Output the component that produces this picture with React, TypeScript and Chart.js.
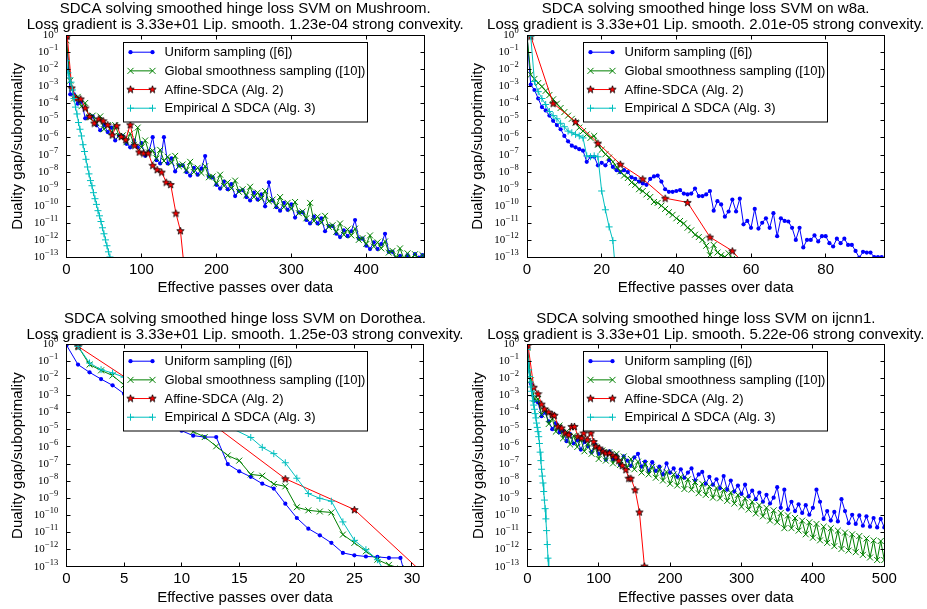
import React, { useEffect, useRef } from 'react';
import { Chart, registerables } from 'chart.js';
Chart.register(...registerables);

const SANS = '"Liberation Sans", Arial, Helvetica, sans-serif';
const SERIF = '"Liberation Serif", "Times New Roman", serif';

// ---------------- axes / labels ----------------
const yTickValues = [1, 1e-1, 1e-2, 1e-3, 1e-4, 1e-5, 1e-6, 1e-7, 1e-8, 1e-9, 1e-10, 1e-11, 1e-12, 1e-13];
const yTickExponents = ['0', '\u22121', '\u22122', '\u22123', '\u22124', '\u22125', '\u22126', '\u22127', '\u22128', '\u22129', '\u221210', '\u221211', '\u221212', '\u221213'];
const legendLabels = ['Uniform sampling ([6])', 'Global smoothness sampling ([10])', 'Affine-SDCA (Alg. 2)', 'Empirical \u0394 SDCA (Alg. 3)'];
const seriesColors = ['#0000ff', '#008000', '#ff0000', '#00bfbf'];
const xAxisTitle = 'Effective passes over data';
const yAxisTitle = 'Duality gap/suboptimality';

// ---------------- Mushroom ----------------
const mushroomTitle = ['SDCA solving smoothed hinge loss SVM on Mushroom.', 'Loss gradient is 3.33e+01 Lip. smooth. 1.23e-04 strong convexity.'];
const mushroomXTicks = [0, 100, 200, 300, 400];
const mushroomDenseX = [0, 5, 10, 15, 20, 25, 30, 35, 40, 45, 50, 55, 60, 65, 70, 75, 80, 85, 90, 95, 100, 105, 110, 115, 120, 125, 130, 135, 140, 145, 150, 155, 160, 165, 170, 175, 180, 185, 190, 195, 200, 205, 210, 215, 220, 225, 230, 235, 240, 245, 250, 255, 260, 265, 270, 275, 280, 285, 290, 295, 300, 305, 310, 315, 320, 325, 330, 335, 340, 345, 350, 355, 360, 365, 370, 375, 380, 385, 390, 395, 400, 405, 410, 415, 420, 425, 430, 435, 440, 445, 450, 455, 460, 465, 470, 475];
const mushroomUniform = [6.3e-1, 3.5e-4, 3.5e-4, 1e-4, 1.3e-4, 1.4e-5, 1.8e-5, 1.8e-5, 5.6e-6, 2.8e-6,
  5.6e-6, 2.2e-6, 4e-6, 7.1e-7, 1.4e-6, 1.3e-6, 4.5e-7, 2.8e-7, 7.1e-7, 2.8e-7,
  5e-7, 8.9e-8, 1.6e-7, 1.1e-6, 5e-8, 3.2e-8, 1.1e-6, 3.2e-8, 6.3e-8, 1.1e-8,
  2.5e-8, 2.5e-8, 1e-8, 6.3e-9, 1.8e-8, 7.1e-9, 1.6e-8, 8.7e-8, 5.6e-9, 5e-9,
  1.8e-9, 1.1e-9, 2.8e-9, 1e-9, 2e-9, 4e-10, 7.9e-10, 8.9e-10, 3.5e-10, 2.2e-10,
  6.3e-10, 2.5e-10, 5e-10, 1e-10, 2.5e-9, 2.2e-10, 8.9e-11, 5.6e-11, 1.6e-10, 6.3e-11,
  1.3e-10, 2.2e-11, 4.5e-11, 4.5e-11, 1.6e-11, 1e-11, 2.5e-11, 1e-11, 2e-11, 3.5e-12,
  7.1e-12, 7.1e-12, 2.5e-12, 1.6e-12, 4e-12, 1.8e-12, 3.5e-12, 1.6e-11, 1.3e-12, 1.3e-12,
  5e-13, 3.2e-13, 7.9e-13, 3.2e-13, 6.3e-13, 2.5e-12, 2.2e-13, 2.2e-13, 7.9e-14, 1.3e-13,
  6.3e-14, 1.4e-13, 7.9e-14, 1.6e-13, 1e-13, 1.4e-13];
const mushroomGlobal = [5e-1, 2.2e-3, 2e-4, 2.5e-4, 7.1e-5, 1.1e-4, 1.6e-5, 2e-5, 7.1e-6, 1.8e-5,
  3.2e-6, 5.6e-6, 2.2e-6, 5.6e-6, 1.3e-6, 1.4e-6, 5.6e-7, 1.8e-6, 4e-7, 4e-6,
  2.8e-7, 7.1e-7, 1.4e-7, 1.8e-7, 6.3e-8, 2e-7, 4.5e-8, 7.9e-8, 3.5e-8, 8.9e-8,
  2.2e-8, 2.8e-8, 1.3e-8, 4e-8, 1e-8, 1.8e-8, 8.9e-9, 2.2e-8, 5e-9, 5.6e-9,
  2.2e-9, 7.1e-9, 1.6e-9, 2.5e-9, 1.1e-9, 3.2e-9, 7.1e-10, 1e-9, 4.5e-10, 1.4e-9,
  3.5e-10, 6.3e-10, 2.8e-10, 7.9e-10, 2e-10, 2.5e-10, 1.1e-10, 3.5e-10, 8.9e-11, 1.6e-10,
  7.1e-11, 1.8e-10, 4e-11, 5e-11, 2e-11, 1.6e-10, 1.4e-11, 2.5e-11, 1.1e-11, 2.8e-11,
  6.3e-12, 7.9e-12, 3.2e-12, 1e-11, 2.2e-12, 4.5e-12, 2e-12, 5e-12, 1.1e-12, 1.4e-12,
  6.3e-13, 2e-12, 4.5e-13, 7.9e-13, 3.5e-13, 8.9e-13, 2e-13, 2.5e-13, 1e-13, 3.5e-13,
  8.9e-14, 1.8e-13, 8.9e-14, 1.6e-13, 7.9e-14, 1.4e-13];
const mushroomAffineX = [1, 7, 13, 19, 25, 31, 37, 43, 49, 55, 61, 67, 73, 79, 85, 91, 97, 103, 109, 115, 121, 127, 133, 139, 146, 152, 158];
const mushroomAffine = [9e-1, 8.3e-4, 2.1e-4, 1.9e-4, 5.6e-5, 1.8e-5, 7.4e-6, 1.3e-5, 1e-5, 5.9e-6, 1.5e-6, 5.2e-6, 1.2e-6, 7.9e-7, 5.9e-6, 3.7e-7, 1.5e-7, 1.3e-7, 1.3e-7, 2.5e-8, 1.4e-8, 1e-8, 2.6e-9, 1.9e-9, 4e-11, 3.8e-12, 1e-14];
const mushroomEmpiricalX = [0, 2, 4, 6, 8, 10, 12, 14, 16, 18, 20, 22, 24, 26, 28, 30, 32, 34, 36, 38, 40, 42, 44, 46, 48, 50, 52, 54, 56, 58, 60];
const mushroomEmpirical = [3.2e-2, 6.3e-3, 3.2e-3, 1.8e-3, 6.3e-4, 2e-4, 6.3e-5, 2.5e-5, 7.9e-6, 3.2e-6, 1.3e-6, 4e-7, 1.6e-7, 5.6e-8, 2e-8, 7.9e-9, 3.2e-9, 1.6e-9, 6.3e-10, 2.8e-10, 1.3e-10, 5.6e-11, 2.8e-11, 1.3e-11, 5.6e-12, 2.5e-12, 1.1e-12, 5e-13, 2.2e-13, 1.1e-13, 5e-14];

// ---------------- w8a ----------------
const w8aTitle = ['SDCA solving smoothed hinge loss SVM on w8a.', 'Loss gradient is 3.33e+01 Lip. smooth. 2.01e-05 strong convexity.'];
const w8aXTicks = [0, 20, 40, 60, 80];
const w8aUniformX = [0, 1, 2, 3, 4, 5, 6, 7, 8, 9, 10, 11, 12, 13, 14, 15, 16, 17, 18, 19, 20, 21, 22, 23, 24, 25, 26, 27, 28, 29, 30, 31, 32, 33, 34, 35, 36, 37, 38, 39, 40, 41, 42, 43, 44, 45, 46, 47, 48, 49, 50, 51, 52, 53, 54, 55, 56, 57, 58, 59, 60, 61, 62, 63, 64, 65, 66, 67, 68, 69, 70, 71, 72, 73, 74, 75, 76, 77, 78, 79, 80, 81, 82, 83, 84, 85, 86, 87, 88, 89, 90, 91, 92, 93, 94, 95];
const w8aUniform = [1, 1.3e-3, 6.3e-4, 2e-4, 6.3e-5, 4e-5, 2e-5, 1e-5, 5.6e-6, 3.2e-6,
  1.3e-6, 6.3e-7, 3.5e-7, 2.8e-7, 2.2e-7, 1.8e-7, 4e-8, 7.9e-8, 7.9e-8, 2.5e-8,
  3.5e-8, 2.5e-8, 5e-8, 2e-8, 1.3e-8, 1e-8, 1.3e-8, 1e-8, 5e-9, 4e-9,
  2.8e-9, 2.2e-9, 1.8e-9, 4e-9, 5.6e-9, 6.3e-9, 2.8e-9, 1e-9, 7.1e-10, 7.1e-10,
  7.9e-10, 8.9e-10, 5.6e-10, 5e-10, 5.6e-10, 1.1e-9, 4e-10, 4e-10, 5e-10, 7.9e-10,
  5.6e-11, 2e-10, 1.3e-10, 2.5e-11, 5e-11, 2.5e-10, 5e-11, 2.8e-10, 8.9e-12, 1.4e-11,
  5.6e-12, 7.1e-11, 5e-12, 1.1e-11, 2e-11, 5.6e-12, 4e-11, 1.8e-12, 2e-11, 1.4e-11,
  1.3e-11, 5.6e-12, 1.1e-12, 5.6e-12, 4e-13, 1.1e-12, 1.1e-12, 2e-12, 8.9e-13, 1.8e-12,
  1.8e-12, 7.1e-13, 4.5e-13, 1.3e-12, 7.1e-13, 1.3e-12, 5.6e-13, 5.6e-13, 2.5e-13, 1e-13,
  2.2e-13, 2e-13, 2e-13, 1.1e-13, 1.1e-13, 1.1e-13];
const w8aGlobalX = [0, 1, 2, 3, 4, 5, 6, 7, 8, 9, 10, 11, 12, 13, 14, 15, 16, 17, 18, 19, 20, 21, 22, 23, 24, 25, 26, 27, 28, 29, 30, 31, 32, 33, 34, 35, 36, 37, 38, 39, 40, 41, 42, 43, 44, 45, 46, 47, 48, 49, 50, 51, 52, 53, 54, 55, 56];
const w8aGlobal = [1, 5e-3, 2.8e-3, 1.6e-3, 1e-3, 5.6e-4, 3.2e-4, 1.8e-4, 1e-4, 5.6e-5,
  3.2e-5, 2e-5, 1.3e-5, 7.9e-6, 4e-6, 2.5e-6, 1.6e-6, 1e-6, 1.3e-6, 4e-7,
  2e-7, 1.1e-7, 7.1e-8, 4e-8, 2e-8, 1.1e-8, 6.3e-9, 4.5e-9, 2.5e-9, 1.8e-9,
  1e-9, 7.9e-10, 5e-10, 3.5e-10, 1.8e-10, 1.6e-10, 1.1e-10, 7.1e-11, 4.5e-11, 3.2e-11,
  2e-11, 1.4e-11, 1e-11, 5.6e-12, 4e-12, 2.2e-12, 1.6e-12, 1.1e-12, 5e-13, 1.4e-13,
  5.6e-13, 2e-13, 1.4e-13, 1.1e-13, 1.8e-13, 8.9e-14, 5e-14];
const w8aAffineX = [1, 7, 13, 19, 25, 31, 37, 43, 49, 55, 61];
const w8aAffine = [8.9e-1, 1.05e-4, 8.9e-6, 4.9e-7, 2.9e-8, 4e-9, 3e-10, 1.7e-10, 1.6e-12, 2.5e-13, 8e-15];
const w8aEmpiricalX = [1, 2, 3, 4, 5, 6, 7, 8, 9, 10, 11, 12, 13, 14, 15, 16, 17, 18, 19, 20, 21, 22, 23, 24];
const w8aEmpirical = [8.9e-1, 2e-3, 5e-4, 2e-4, 8.9e-5, 3.5e-5, 2e-5, 1.3e-5, 7.1e-6, 4.5e-6, 2.5e-6, 2e-6, 1.6e-6, 1.3e-6, 1e-6, 8.9e-8, 7.9e-8, 8.9e-8, 7.9e-8, 7.9e-10, 6.3e-11, 6.3e-12, 1e-12, 3.2e-15];

// ---------------- Dorothea ----------------
const dorotheaTitle = ['SDCA solving smoothed hinge loss SVM on Dorothea.', 'Loss gradient is 3.33e+01 Lip. smooth. 1.25e-03 strong convexity.'];
const dorotheaXTicks = [0, 5, 10, 15, 20, 25, 30];
const dorotheaUniformX = [0, 1, 2, 3, 4, 5, 10, 11, 12, 13, 14, 15, 16, 17, 18, 19, 20, 21, 22, 23, 24, 25, 26, 27, 28, 29, 30];
const dorotheaUniform = [8.9e-1, 6.5e-2, 2.3e-2, 9.3e-3, 4e-3, 1.3e-3, 8.9e-6, 4.6e-6, 3.8e-6, 3.8e-6, 1e-7, 3.8e-8, 1.8e-8, 7.2e-9, 3.7e-9, 4.9e-10, 7.1e-11, 1.7e-11, 6.9e-12, 2.5e-12, 6.5e-13, 4.7e-13, 4e-13, 3.8e-13, 3.3e-13, 3.3e-13, 1e-15];
const dorotheaGlobalX = [1, 2, 3, 4, 5, 11, 12, 13, 14, 15, 16, 17, 18, 19, 20, 21, 22, 23, 24, 25, 26, 27, 28, 29];
const dorotheaGlobal = [7.6e-1, 6.5e-2, 3e-2, 1.5e-2, 4.2e-3, 7.9e-6, 3.8e-6, 1.1e-6, 3.2e-7, 1.6e-7, 2.5e-8, 2.1e-8, 6.9e-9, 5e-9, 3e-10, 2e-10, 1.7e-10, 1.5e-10, 7.6e-12, 2.5e-12, 8.1e-13, 2.6e-13, 1.3e-13, 8e-14];
const dorotheaAffineX = [1, 7, 13, 19, 25, 31];
const dorotheaAffine = [7.6e-1, 1.7e-3, 1.5e-5, 1.4e-8, 2.2e-10, 4e-14];
const dorotheaEmpiricalX = [1, 2, 3, 4, 5, 16, 17, 18, 19, 20, 21, 22, 23, 24, 25, 26, 27, 28];
const dorotheaEmpirical = [7.6e-1, 8.1e-2, 3.3e-2, 2.1e-2, 1.2e-2, 3.6e-6, 9.5e-7, 4.1e-7, 1.2e-7, 1.5e-8, 1.9e-9, 1e-9, 6.8e-10, 4.2e-11, 3.5e-12, 1e-12, 2.6e-13, 2e-14];

// ---------------- ijcnn1 ----------------
const ijcnnTitle = ['SDCA solving smoothed hinge loss SVM on ijcnn1.', 'Loss gradient is 3.33e+01 Lip. smooth. 5.22e-06 strong convexity.'];
const ijcnnXTicks = [0, 100, 200, 300, 400, 500];
const ijcnnDenseX = [0, 5, 10, 15, 20, 25, 30, 35, 40, 45, 50, 55, 60, 65, 70, 75, 80, 85, 90, 95, 100, 105, 110, 115, 120, 125, 130, 135, 140, 145, 150, 155, 160, 165, 170, 175, 180, 185, 190, 195, 200, 205, 210, 215, 220, 225, 230, 235, 240, 245, 250, 255, 260, 265, 270, 275, 280, 285, 290, 295, 300, 305, 310, 315, 320, 325, 330, 335, 340, 345, 350, 355, 360, 365, 370, 375, 380, 385, 390, 395, 400, 405, 410, 415, 420, 425, 430, 435, 440, 445, 450, 455, 460, 465, 470, 475, 480, 485, 490, 495, 500];
const ijcnnUniform = [7.9e-1, 5e-3, 5e-4, 4e-4, 6.3e-5, 1e-4, 3.2e-5, 1.1e-5, 2.5e-5, 7.1e-6,
  8.9e-6, 2.2e-6, 5.6e-6, 1.6e-6, 2.5e-6, 7.1e-7, 2e-6, 1.1e-6, 5e-7, 1.4e-6,
  4e-7, 6.3e-7, 1.8e-7, 5.6e-7, 1.8e-7, 3.2e-7, 8.9e-8, 2.8e-7, 1.6e-7, 7.9e-8,
  2.5e-7, 4e-7, 7.1e-8, 1.4e-7, 4e-8, 1.3e-7, 4e-8, 7.1e-8, 2.5e-8, 1.1e-7,
  3.2e-8, 5.6e-8, 1.8e-8, 5e-8, 1.6e-8, 3.2e-8, 5.6e-8, 1.1e-8, 2.5e-8, 3.5e-8,
  7.1e-9, 1.8e-8, 6.3e-9, 1.3e-8, 4e-9, 2e-8, 3.2e-9, 1.1e-8, 2.5e-9, 5.6e-9,
  1.8e-9, 6.3e-9, 1.3e-9, 2.8e-9, 8.9e-10, 2.2e-9, 6.3e-10, 1.6e-9, 5e-10, 1.1e-9,
  4.5e-9, 2.8e-10, 3.2e-9, 2.2e-10, 6.3e-10, 1.8e-10, 4.5e-10, 1.4e-10, 4e-10, 1.1e-10,
  2.8e-10, 3.2e-9, 6.3e-10, 6.3e-11, 1.8e-10, 5e-11, 1.6e-10, 4.5e-11, 8.9e-10, 1.8e-10,
  3.5e-11, 1.1e-10, 3.2e-11, 1e-10, 2.5e-11, 8.9e-11, 2.2e-11, 7.1e-11, 2e-11, 6.3e-11,
  2e-11];
const ijcnnGlobal = [6.3e-1, 7.9e-3, 6.3e-4, 6.3e-4, 7.9e-5, 1.3e-4, 2.2e-5, 4.5e-5, 7.9e-6, 1.8e-5,
  3.2e-6, 7.9e-6, 1.4e-6, 4.5e-6, 1e-6, 2.8e-6, 5.6e-7, 1.6e-6, 4e-7, 1.1e-6,
  2e-7, 6.3e-7, 1.6e-7, 5e-7, 1.1e-7, 4e-7, 8.9e-8, 2.8e-7, 6.3e-8, 2e-7,
  5e-8, 1.4e-7, 3.2e-8, 1e-7, 2.5e-8, 7.1e-8, 1.6e-8, 5e-8, 1.1e-8, 3.5e-8,
  7.1e-9, 2.5e-8, 5.6e-9, 1.8e-8, 3.5e-9, 1.3e-8, 3.2e-9, 8.9e-9, 2e-9, 7.1e-9,
  1.6e-9, 5e-9, 1.1e-9, 4e-9, 1e-9, 3.2e-9, 7.1e-10, 2.2e-9, 5e-10, 1.6e-9,
  3.2e-10, 1e-9, 2.2e-10, 6.3e-10, 1.3e-10, 4e-10, 8.9e-11, 2.8e-10, 5e-11, 2e-10,
  4e-11, 1.4e-10, 1.8e-11, 1e-10, 1.8e-11, 7.1e-11, 1.3e-11, 5e-11, 7.9e-12, 4e-11,
  5e-12, 3.2e-11, 3.5e-12, 2.2e-11, 2.5e-12, 1.8e-11, 1.6e-12, 1.3e-11, 1.1e-12, 1e-11,
  8.9e-13, 7.9e-12, 7.1e-13, 6.3e-12, 5e-13, 4.5e-12, 3.5e-13, 3.5e-12, 2.5e-13, 3.2e-12,
  2.5e-13];
const ijcnnAffineX = [1, 9, 15, 20, 24, 30, 35, 38, 43, 48, 53, 58, 62, 66, 71, 76, 79, 84, 89, 93, 96, 101, 106, 110, 115, 120, 124, 128, 133, 138, 142, 145, 151, 157, 164];
const ijcnnAffine = [9e-1, 3.1e-3, 1.3e-3, 3.2e-4, 1.7e-4, 1.1e-4, 7.8e-5, 7.1e-5, 1.6e-5, 1.3e-5, 6.6e-6, 5.2e-6, 1.6e-5, 1.6e-5, 4.2e-6, 3.4e-6, 6.6e-6, 2.7e-6, 6.6e-6, 2.1e-6, 1.1e-6, 8.7e-7, 5.6e-7, 4.5e-7, 4.5e-7, 3.2e-7, 2.6e-7, 1.6e-7, 8.5e-8, 4.8e-8, 1.5e-8, 1.5e-8, 3.2e-9, 1.6e-10, 1.1e-13];
const ijcnnEmpiricalX = [0, 1, 2, 3, 4, 5, 6, 7, 8, 9, 10, 11, 12, 13, 14, 15, 16, 17, 18, 19, 20, 21, 22, 23, 24, 25, 26, 27, 28, 29, 30];
const ijcnnEmpirical = [5e-1, 1e-1, 3.2e-2, 1.3e-2, 6.3e-3, 3.2e-3, 1.8e-3, 1e-3, 5e-4, 2.8e-4, 1.6e-4, 8.9e-5, 5e-5, 2.5e-5, 1.4e-5, 7.9e-6, 4e-6, 1.6e-6, 5e-7, 1.6e-7, 5e-8, 2e-8, 7.9e-9, 2.5e-9, 7.9e-10, 2.5e-10, 6.3e-11, 1.3e-11, 2e-12, 3.2e-13, 5e-14];

// ---------------- panels ----------------
type Series = { xs: number[]; ys: number[] };
type PanelSpec = {
  left: number; top: number; w: number; h: number;
  padTop: number; padRight: number; yw: number; xh: number;
  xMax: number; xTicks: number[]; title: string[];
  series: Series[];
};

const panels: PanelSpec[] = [
  { left: 0, top: 0, w: 470, h: 304, padTop: 35.2, padRight: 46, yw: 66.5, xh: 46.3, xMax: 477, xTicks: mushroomXTicks, title: mushroomTitle,
    series: [{ xs: mushroomDenseX, ys: mushroomUniform }, { xs: mushroomDenseX, ys: mushroomGlobal }, { xs: mushroomAffineX, ys: mushroomAffine }, { xs: mushroomEmpiricalX, ys: mushroomEmpirical }] },
  { left: 470, top: 0, w: 457, h: 304, padTop: 35.2, padRight: 42.7, yw: 57, xh: 46.3, xMax: 95.7, xTicks: w8aXTicks, title: w8aTitle,
    series: [{ xs: w8aUniformX, ys: w8aUniform }, { xs: w8aGlobalX, ys: w8aGlobal }, { xs: w8aAffineX, ys: w8aAffine }, { xs: w8aEmpiricalX, ys: w8aEmpirical }] },
  { left: 0, top: 304, w: 470, h: 305, padTop: 40.3, padRight: 46.5, yw: 66.5, xh: 42.2, xMax: 31, xTicks: dorotheaXTicks, title: dorotheaTitle,
    series: [{ xs: dorotheaUniformX, ys: dorotheaUniform }, { xs: dorotheaGlobalX, ys: dorotheaGlobal }, { xs: dorotheaAffineX, ys: dorotheaAffine }, { xs: dorotheaEmpiricalX, ys: dorotheaEmpirical }] },
  { left: 470, top: 304, w: 457, h: 305, padTop: 40.3, padRight: 42.7, yw: 57.3, xh: 42.2, xMax: 500, xTicks: ijcnnXTicks, title: ijcnnTitle,
    series: [{ xs: ijcnnDenseX, ys: ijcnnUniform }, { xs: ijcnnDenseX, ys: ijcnnGlobal }, { xs: ijcnnAffineX, ys: ijcnnAffine }, { xs: ijcnnEmpiricalX, ys: ijcnnEmpirical }] },
];

function makeStar(): HTMLCanvasElement {
  const c = document.createElement('canvas');
  c.width = 9; c.height = 9;
  const g = c.getContext('2d')!;
  g.beginPath();
  for (let k = 0; k < 10; k++) {
    const r = k % 2 === 0 ? 3.9 : 1.6;
    const ang = -Math.PI / 2 + (k * Math.PI) / 5;
    const px = 4.5 + r * Math.cos(ang);
    const py = 4.9 + r * Math.sin(ang);
    if (k === 0) g.moveTo(px, py); else g.lineTo(px, py);
  }
  g.closePath();
  g.fillStyle = '#ff0000';
  g.fill();
  g.lineWidth = 0.8;
  g.strokeStyle = '#000000';
  g.stroke();
  return c;
}

function drawMarker(ctx: CanvasRenderingContext2D, kind: number, x: number, y: number, star: HTMLCanvasElement) {
  const col = seriesColors[kind];
  ctx.save();
  ctx.strokeStyle = col; ctx.fillStyle = col; ctx.lineWidth = 1;
  if (kind === 0) {
    ctx.beginPath(); ctx.arc(x, y, 2.1, 0, Math.PI * 2); ctx.fill();
  } else if (kind === 1) {
    ctx.beginPath(); ctx.moveTo(x - 3, y - 3); ctx.lineTo(x + 3, y + 3);
    ctx.moveTo(x - 3, y + 3); ctx.lineTo(x + 3, y - 3); ctx.stroke();
  } else if (kind === 2) {
    ctx.drawImage(star, x - 4.5, y - 4.9);
  } else {
    ctx.beginPath(); ctx.moveTo(x - 3.5, y); ctx.lineTo(x + 3.5, y);
    ctx.moveTo(x, y - 3.5); ctx.lineTo(x, y + 3.5); ctx.stroke();
  }
  ctx.restore();
}

function makeDecor(spec: PanelSpec, star: HTMLCanvasElement) {
  return {
    id: 'decor',
    afterDraw(chart: any) {
      const ctx: CanvasRenderingContext2D = chart.ctx;
      const a = chart.chartArea;
      const xs = chart.scales.x;
      const ys = chart.scales.y;
      const L = Math.floor(a.left) + 0.5, R = Math.floor(a.right) + 0.5;
      const T = Math.floor(a.top) + 0.5, B = Math.floor(a.bottom) + 0.5;
      const cx = (a.left + a.right) / 2;
      ctx.save();
      ctx.strokeStyle = '#000'; ctx.fillStyle = '#000'; ctx.lineWidth = 1;
      ctx.strokeRect(L, T, R - L, B - T);
      ctx.beginPath();
      xs.ticks.forEach((t: any) => {
        const px = Math.floor(xs.getPixelForValue(t.value)) + 0.5;
        ctx.moveTo(px, B); ctx.lineTo(px, B - 4);
        ctx.moveTo(px, T); ctx.lineTo(px, T + 4);
      });
      ys.ticks.forEach((t: any) => {
        const py = Math.floor(ys.getPixelForValue(t.value)) + 0.5;
        ctx.moveTo(L, py); ctx.lineTo(L + 4, py);
        ctx.moveTo(R, py); ctx.lineTo(R - 4, py);
      });
      ctx.stroke();
      ctx.font = `15px ${SANS}`;
      ctx.textAlign = 'center'; ctx.textBaseline = 'alphabetic';
      xs.ticks.forEach((t: any) => {
        ctx.fillText(String(t.value), xs.getPixelForValue(t.value), a.bottom + 16);
      });
      ys.ticks.forEach((t: any, i: number) => {
        const py = ys.getPixelForValue(t.value);
        const exp = yTickExponents[yTickValues.indexOf(t.value)] ?? String(i);
        ctx.font = `8.5px ${SERIF}`;
        const w2 = ctx.measureText(exp).width;
        ctx.font = `11px ${SERIF}`;
        const w1 = ctx.measureText('10').width;
        const x0 = a.left - 8.2 - w2 - w1 - 0.3;
        ctx.textAlign = 'left';
        ctx.fillText('10', x0, py + 2.7);
        ctx.font = `8.5px ${SERIF}`;
        ctx.fillText(exp, x0 + w1 + 0.3, py - 2.3);
      });
      ctx.font = `15px ${SANS}`;
      ctx.textAlign = 'center';
      ctx.fillText(xAxisTitle, cx, a.bottom + 34.7);
      ctx.save();
      ctx.translate(a.left - 44.6, (a.top + a.bottom) / 2);
      ctx.rotate(-Math.PI / 2);
      ctx.fillText(yAxisTitle, 0, 0);
      ctx.restore();
      ctx.fillText(spec.title[0], cx, a.top - 21.8);
      ctx.fillText(spec.title[1], cx, a.top - 5.8);
      const lw = 244, lh = 79.5;
      const lx = Math.floor(cx - lw / 2) + 0.5, ly = Math.floor(a.top + 6.8) + 0.5;
      ctx.fillStyle = '#fff';
      ctx.fillRect(lx, ly, lw, lh);
      ctx.strokeStyle = '#000';
      ctx.strokeRect(lx, ly, lw, lh);
      ctx.font = `13px ${SANS}`;
      ctx.textAlign = 'left'; ctx.textBaseline = 'middle';
      legendLabels.forEach((lab, k) => {
        const ry = ly + 9.7 + k * 18.67;
        ctx.strokeStyle = seriesColors[k]; ctx.lineWidth = 1;
        ctx.beginPath(); ctx.moveTo(lx + 7, ry); ctx.lineTo(lx + 29, ry); ctx.stroke();
        drawMarker(ctx, k, lx + 7, ry, star);
        drawMarker(ctx, k, lx + 29, ry, star);
        ctx.fillStyle = '#000';
        ctx.fillText(lab, lx + 41, ry + 0.5);
      });
      ctx.restore();
    },
  };
}

function buildConfig(spec: PanelSpec, star: HTMLCanvasElement): any {
  const styles = [
    { pointStyle: 'circle', pointRadius: 2.1, pointBorderWidth: 0 },
    { pointStyle: 'crossRot', pointRadius: 4.2, pointBorderWidth: 1 },
    { pointStyle: star, pointRadius: 4, pointBorderWidth: 0 },
    { pointStyle: 'cross', pointRadius: 3.5, pointBorderWidth: 1 },
  ];
  const datasets = spec.series.map((s, k) => ({
    label: legendLabels[k],
    data: s.xs.map((x, i) => ({ x, y: s.ys[i] })),
    borderColor: seriesColors[k],
    backgroundColor: seriesColors[k],
    pointBackgroundColor: seriesColors[k],
    pointBorderColor: seriesColors[k],
    borderWidth: 1,
    tension: 0,
    order: 4 - k,
    ...styles[k],
  }));
  return {
    type: 'line',
    data: { datasets },
    options: {
      animation: false,
      responsive: false,
      devicePixelRatio: 1,
      events: [],
      layout: { padding: { top: spec.padTop, right: spec.padRight, left: 0, bottom: 0 } },
      plugins: { legend: { display: false }, title: { display: false }, tooltip: { enabled: false } },
      scales: {
        x: {
          type: 'linear', min: 0, max: spec.xMax,
          grid: { display: false, drawTicks: false }, border: { display: false },
          ticks: { display: false },
          afterBuildTicks: (s: any) => { s.ticks = spec.xTicks.map((v) => ({ value: v })); },
          afterFit: (s: any) => { s.height = spec.xh; },
        },
        y: {
          type: 'logarithmic', min: 1e-13, max: 1,
          grid: { display: false, drawTicks: false }, border: { display: false },
          ticks: { display: false },
          afterBuildTicks: (s: any) => { s.ticks = yTickValues.map((v) => ({ value: v })); },
          afterFit: (s: any) => { s.width = spec.yw; },
        },
      },
    },
    plugins: [makeDecor(spec, star)],
  };
}

function Panel({ spec }: { spec: PanelSpec }) {
  const ref = useRef<HTMLCanvasElement>(null);
  useEffect(() => {
    if (!ref.current) return;
    const star = makeStar();
    const chart = new Chart(ref.current, buildConfig(spec, star));
    return () => chart.destroy();
  }, [spec]);
  return (
    <canvas ref={ref} width={spec.w} height={spec.h}
      style={{ position: 'absolute', left: spec.left, top: spec.top, width: spec.w, height: spec.h }} />
  );
}

export default function App() {
  return (
    <div style={{ position: 'absolute', left: 0, top: 0, width: 927, height: 609, background: '#fff' }}>
      {panels.map((p, i) => <Panel key={i} spec={p} />)}
    </div>
  );
}
